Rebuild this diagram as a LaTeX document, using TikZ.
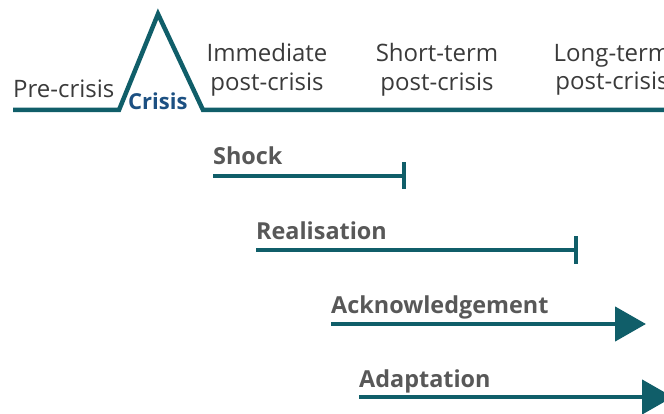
\documentclass[tikz,border=0pt]{standalone}
\usepackage{fontspec}
\setmainfont{Open Sans}
\usetikzlibrary{arrows.meta}
\definecolor{teal}{RGB}{16,94,105}
\definecolor{textgrey}{RGB}{58,58,58}
\definecolor{phasegrey}{RGB}{88,88,88}
\definecolor{crisisblue}{RGB}{28,80,130}

\begin{document}
\begin{tikzpicture}[x=1pt,y=-1pt]

\tikzstyle{period} = [align=center, text=textgrey, inner sep=0, font=\fontsize{24}{28.5}\selectfont]
\tikzstyle{phase} = [anchor=base west, text=phasegrey, inner sep=0, font=\fontsize{23.4}{26}\selectfont\bfseries]
\tikzstyle{timeline} = [draw=teal, line width=4.5pt, line join=miter]
\tikzstyle{ended} = [draw=teal, line width=4.5pt, -{Bar[width=27pt]}]
\tikzstyle{ongoing} = [draw=teal, line width=4.5pt, -{Triangle[length=31pt, width=34pt]}]

\useasboundingbox (0,0) rectangle (664,414);

\draw[timeline] (13,110) -- (119,110) -- (158,14) -- (203,110) -- (670,110);

\node[period, anchor=base west] (pre) at (13,98) {Pre-crisis};
\node[anchor=base west, text=crisisblue, inner sep=0, font=\fontsize{22}{26}\selectfont\bfseries] (crisis) at (128,110) {Crisis};
\node[period] (immediate) at (267,70) {Immediate\\post-crisis};
\node[period] (shortterm) at (437,70) {Short-term\\post-crisis};
\node[period] (longterm) at (612,70) {Long-term\\post-crisis};

\node[phase] (shock) at (213,165) {Shock};
\node[phase] (realisation) at (256,240) {Realisation};
\node[phase] (acknowledgement) at (331,313) {Acknowledgement};
\node[phase] (adaptation) at (359,387) {Adaptation};

\coordinate (shockS) at (213,176);
\coordinate (shockE) at (406,176);
\coordinate (realisationS) at (256,250);
\coordinate (realisationE) at (578,250);
\coordinate (acknowledgementS) at (331,324);
\coordinate (acknowledgementE) at (646,324);
\coordinate (adaptationS) at (359,397);
\coordinate (adaptationE) at (673,397);

\draw[ended] (shockS) -- (shockE);
\draw[ended] (realisationS) -- (realisationE);
\draw[ongoing] (acknowledgementS) -- (acknowledgementE);
\draw[ongoing] (adaptationS) -- (adaptationE);

\end{tikzpicture}
\end{document}
